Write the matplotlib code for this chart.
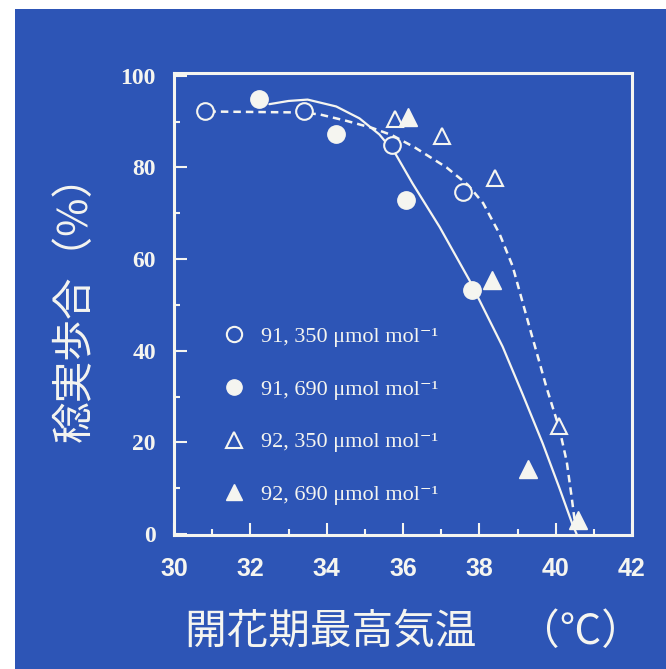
import numpy as np
import matplotlib.pyplot as plt
from matplotlib.lines import Line2D
from matplotlib.patches import Rectangle

# spikelet fertility vs. max temperature at flowering
t_91_350 = [30.8, 33.4, 35.7, 37.56]
f_91_350 = [92.4, 92.4, 85.0, 74.6]

t_91_690 = [32.23, 34.25, 36.09, 37.82]
f_91_690 = [95.0, 87.2, 72.8, 53.2]

t_92_350 = [35.8, 37.03, 38.4, 40.1]
f_92_350 = [90.5, 86.8, 77.7, 23.6]

t_92_690 = [36.12, 38.32, 39.27, 40.58]
f_92_690 = [91.1, 55.4, 14.3, 3.0]

# fitted curves (solid and dashed)
fit_solid_t = [32.5, 33.0, 33.5, 34.25, 34.86, 35.38, 35.8, 36.25, 36.96, 37.74,
               38.61, 39.13, 39.66, 40.10, 40.45, 40.55]
fit_solid_f = [93.8, 94.5, 94.8, 93.3, 90.7, 87.2, 83.0, 76.5, 67.0, 55.4,
               40.9, 30.6, 19.8, 10.0, 1.9, 0.0]

fit_dash_t = [30.9, 33.2, 33.8, 34.5, 35.2, 35.72, 36.3, 37.14, 37.7, 38.1,
              38.53, 38.87, 39.32, 39.76, 40.1, 40.29, 40.42, 40.5]
fit_dash_f = [92.2, 92.0, 91.6, 90.2, 88.6, 87.0, 84.4, 80.0, 76.2, 72.2,
              65.5, 58.5, 45.0, 32.0, 22.9, 15.8, 8.0, 2.8]

labels = ["91, 350 μmol mol⁻¹", "91, 690 μmol mol⁻¹",
          "92, 350 μmol mol⁻¹", "92, 690 μmol mol⁻¹"]

bg = "#2d55b6"
fg = "#f5f5f0"

fig = plt.figure(figsize=(6.66, 6.69), dpi=100)
fig.patch.set_facecolor("white")
backdrop = Rectangle((15 / 666, 0), 1, 1 - 9 / 669, transform=fig.transFigure,
                     facecolor=bg, edgecolor="none", zorder=-10)
fig.add_artist(backdrop)

ax = fig.add_axes([174 / 666, 1 - 535 / 669, 458 / 666, 462 / 669])
ax.set_facecolor(bg)

ax.plot(fit_solid_t, fit_solid_f, color=fg, lw=1.6, solid_capstyle="round",
        solid_joinstyle="round")
ax.plot(fit_dash_t, fit_dash_f, color=fg, lw=1.8, ls=(0, (3, 2)))

ax.plot(t_91_350, f_91_350, "o", ms=12, mfc=bg, mec=fg, mew=1.5)
ax.plot(t_91_690, f_91_690, "o", ms=12.5, mfc=fg, mec=fg)
ax.plot(t_92_350, f_92_350, "^", ms=12, mfc=bg, mec=fg, mew=1.5)
ax.plot(t_92_690, f_92_690, "^", ms=12.5, mfc=fg, mec=fg)

ax.set_xlim(30, 42)
ax.set_ylim(-0.2, 100.6)
ax.set_xticks(np.arange(30, 43, 2))
ax.set_xticks(np.arange(31, 42, 2), minor=True)
ax.set_yticks(np.arange(0, 101, 20))
ax.set_yticks(np.arange(10, 100, 20), minor=True)

for s in ax.spines.values():
    s.set_color(fg)
    s.set_linewidth(2.2)

ax.tick_params(which="both", direction="in", color=fg, width=1.5,
               top=False, right=False)
ax.tick_params(which="major", length=9)
ax.tick_params(which="minor", length=4)
ax.tick_params(axis="x", which="major", pad=16, labelcolor=fg)
ax.tick_params(axis="y", which="major", pad=13, labelcolor=fg)

for lab in ax.get_xticklabels():
    lab.set_fontfamily("Liberation Sans")
    lab.set_fontweight("bold")
    lab.set_fontsize(18)
for lab in ax.get_yticklabels():
    lab.set_fontfamily("Liberation Serif")
    lab.set_fontweight("bold")
    lab.set_fontsize(17)

handles = [
    Line2D([], [], ls="none", marker="o", ms=11, mfc=bg, mec=fg, mew=1.5),
    Line2D([], [], ls="none", marker="o", ms=11, mfc=fg, mec=fg),
    Line2D([], [], ls="none", marker="^", ms=11, mfc=bg, mec=fg, mew=1.5),
    Line2D([], [], ls="none", marker="^", ms=11, mfc=fg, mec=fg),
]
leg = ax.legend(handles, labels, loc="upper left", bbox_to_anchor=(0.107, 0.452),
                frameon=False, borderpad=0, borderaxespad=0, handlelength=1.0,
                handletextpad=0.7, labelspacing=1.45,
                prop={"family": ["Liberation Serif", "DejaVu Serif"], "size": 16})
for t in leg.get_texts():
    t.set_color(fg)

jp = ["Noto Sans CJK JP", "DejaVu Sans"]
fig.text(75 / 666, 1 - 298 / 669, "稔実歩合（%）", rotation=90, ha="center", va="center",
         color=fg, fontsize=30, family=jp)
fig.text(185 / 666, 1 - 633 / 669, "開花期最高気温　（℃）", ha="left", va="center",
         color=fg, fontsize=30, family=jp)

fig.savefig("out.png", dpi=100)
